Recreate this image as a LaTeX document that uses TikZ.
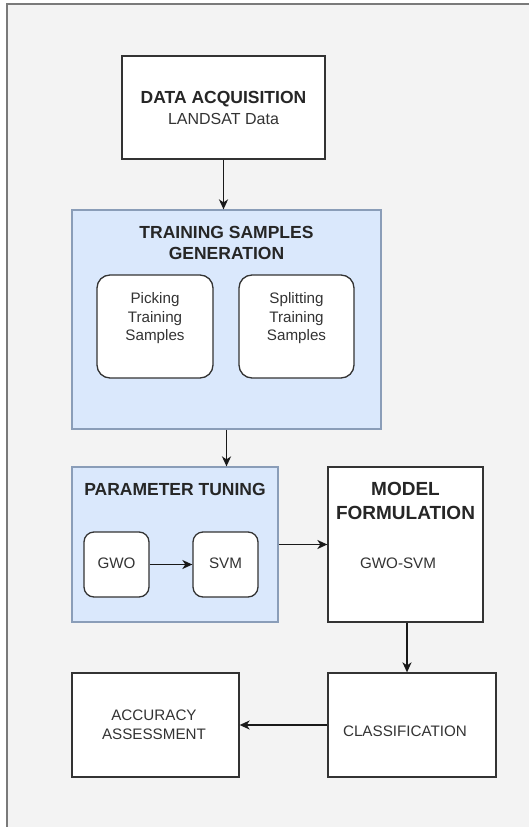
\documentclass[tikz,border=0pt]{standalone}
\usepackage{fontspec}
\setmainfont{Liberation Sans}
\usetikzlibrary{arrows.meta}
\definecolor{bgc}{HTML}{F3F3F3}
\definecolor{framec}{HTML}{7A7A7A}
\definecolor{bluefill}{HTML}{DAE8FC}
\definecolor{bluedraw}{HTML}{8A9DB8}
\definecolor{boxdraw}{HTML}{333333}
\definecolor{txt}{HTML}{333333}
\begin{document}
\begin{tikzpicture}[x=1pt,y=-1pt,
  box/.style={draw=boxdraw, line width=1.3pt, fill=white, inner sep=0pt},
  rbox/.style={box, rounded corners=13pt},
  group/.style={draw=bluedraw, line width=1.2pt, fill=bluefill, inner sep=0pt},
  reg/.style={font=\fontsize{15.2}{18.5}\selectfont, text=txt, align=center, inner sep=0pt},
  bold/.style={font=\fontsize{17.5}{21}\selectfont\bfseries, text=black!85, align=center, inner sep=0pt},
  conn/.style={line width=1.7pt, draw=black!90, -{Stealth[length=10pt,width=9pt,inset=3pt]}}
]
\useasboundingbox (0,0) rectangle (529,827);
\fill[white] (0,0) rectangle (529,827);
\fill[bgc] (7,4) rectangle (529,827);
\draw[framec, line width=1.3pt] (7,827) -- (7,4) -- (529,4);

% Data acquisition
\node[box, minimum width=203pt, minimum height=103pt] (data) at (223.5,107.5) {};
\node[align=center, inner sep=0pt, font=\fontsize{16}{21}\selectfont, text=txt] (datat) at (223.5,107.5)
  {{\fontsize{17.5}{21}\selectfont\bfseries\color{black!85}DATA ACQUISITION}\\LANDSAT Data};

% Training samples generation
\node[group, minimum width=309pt, minimum height=219pt] (train) at (226.5,319.5) {};
\node[bold] (traint) at (226.5,242.5) {TRAINING SAMPLES\\GENERATION};
\node[rbox, minimum width=116pt, minimum height=103pt] (pick) at (155,326.5) {};
\node[reg] (pickt) at (155,318.5) {Picking\\Training\\Samples};
\node[rbox, minimum width=115pt, minimum height=103pt] (split) at (296.5,326.5) {};
\node[reg] (splitt) at (296.5,318.5) {Splitting\\Training\\Samples};

% Parameter tuning
\node[group, minimum width=206pt, minimum height=155pt] (param) at (175,544.5) {};
\node[bold] (paramt) at (175,489) {PARAMETER TUNING};
\node[rbox, rounded corners=10pt, minimum width=65pt, minimum height=65pt] (gwo) at (116.5,564.5) {};
\node[reg] (gwot) at (116.5,563.5) {GWO};
\node[rbox, rounded corners=10pt, minimum width=65pt, minimum height=65pt] (svm) at (225.5,564.5) {};
\node[reg] (svmt) at (225.5,563.5) {SVM};

% Model formulation
\node[box, minimum width=155pt, minimum height=155pt] (model) at (405.5,544.5) {};
\node[align=center, inner sep=0pt, font=\fontsize{19}{24}\selectfont\bfseries, text=black!85] (modelt) at (405.5,501) {MODEL\\FORMULATION};
\node[reg] (modelsub) at (398,563.5) {GWO-SVM};

% Classification and accuracy
\node[box, minimum width=168pt, minimum height=104pt] (class) at (412,725) {};
\node[reg] (classt) at (405,731) {CLASSIFICATION};
\node[box, minimum width=167pt, minimum height=104pt] (acc) at (155.5,725) {};
\node[reg] (acct) at (154,725) {ACCURACY\\ASSESSMENT};

% Connectors
\draw[conn] (data.south) -- (data.south |- train.north);
\draw[conn] (train.south) -- (train.south |- param.north);
\draw[conn] (gwo) -- (svm);
\draw[conn] (param.east) -- (model.west);
\draw[conn] ([xshift=1.5pt]model.south) -- ([xshift=1.5pt]model.south |- class.north);
\draw[conn] (class.west) -- (acc.east);
\end{tikzpicture}
\end{document}
